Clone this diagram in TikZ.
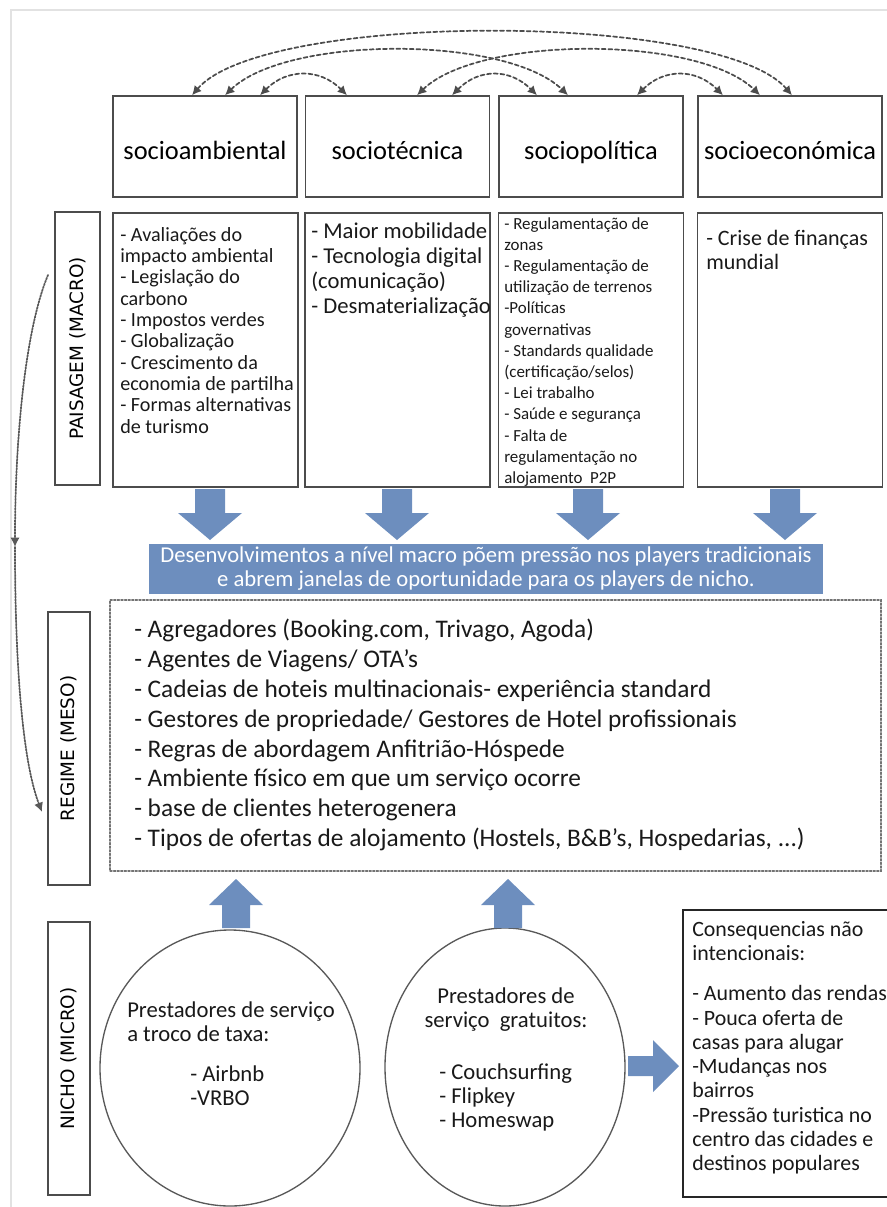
\documentclass[tikz,border=0pt]{standalone}
\usepackage{fontspec}
\setmainfont{Carlito}
\newfontfamily\labelfont{DejaVu Sans}
\usetikzlibrary{arrows.meta,shapes.geometric}

\definecolor{blockblue}{RGB}{109,142,190}
\definecolor{framegray}{RGB}{226,226,226}

\begin{document}
\begin{tikzpicture}[x=0.75pt, y=-0.75pt, line cap=round,
    box/.style={draw=black!70, line width=1.1pt, inner sep=0pt},
    topbox/.style={box, minimum width=184*0.75pt, minimum height=101*0.75pt,
                   text height=19pt, text depth=0pt,
                   font=\fontsize{19.8}{22}\selectfont},
    colbox/.style={box, minimum width=185*0.75pt, minimum height=274*0.75pt},
    levelbox/.style={box, rotate=90, minimum width=273*0.75pt, minimum height=42*0.75pt,
                     font=\labelfont\fontsize{13.8}{16}\selectfont},
    coltext/.style={anchor=north west, inner sep=0pt, align=left, text=black!90},
    dasharc/.style={densely dashed, draw=black!70, line width=1.3pt,
                    {Latex[length=7pt,width=7pt]}-{Latex[length=7pt,width=7pt]}},
    sidearc/.style={densely dotted, draw=black!65, line width=1.3pt,
                    -{Latex[length=7pt,width=7pt]}},
    blockarrow/.style={fill=blockblue}
  ]
\useasboundingbox (0,0) rectangle (887,1207);
\draw[framegray, line width=0.9pt] (11,1207) -- (11,10) -- (887,10);

% dimensions (landscape)
\foreach \nm/\cx/\txt in {sa/205/socioambiental, st/397.5/sociotécnica,
                          sp/591/sociopolítica, se/790/socioeconómica}
  \node[topbox] (\nm) at (\cx,146.5) {\txt};

\foreach \a/\oa/\b/\ob/\v/\d in {sa/-13/se/2/84/72, sa/20/sp/-23/60/62,
                                st/19.5/se/-30/60/62, sa/55/st/-50.5/27/27,
                                st/54.5/sp/-54/27/27, sp/46/se/-67/27/27}
  \draw[dasharc] ([xshift=\oa*0.75pt]\a.north) .. controls +(\d,-\v) and +(-\d,-\v)
        .. ([xshift=\ob*0.75pt]\b.north);

\node[levelbox, minimum height=45*0.75pt] (macro) at (77.5,348.5) {PAISAGEM (MACRO)};

\foreach \nm/\cx in {pa/205.5, pt/397.5, pp/591, pe/790}
  \node[colbox] (\nm) at (\cx,350) {};

\node[coltext, font=\fontsize{15.1}{16}\selectfont] (patext) at (120,227)
  {- Avaliações do\\impacto ambiental\\- Legislação do\\carbono\\- Impostos verdes\\
   - Globalização\\- Crescimento da\\economia de partilha\\- Formas alternativas\\de turismo};
\node[coltext, font=\fontsize{17}{18.75}\selectfont] (pttext) at (311,222)
  {- Maior mobilidade\\- Tecnologia digital\\(comunicação)\\- Desmaterialização};
\node[coltext, font=\fontsize{12.7}{15.9}\selectfont] (pptext) at (504,217)
  {- Regulamentação de\\zonas\\- Regulamentação de\\utilização de terrenos\\-Políticas\\
   governativas\\- Standards qualidade\\(certificação/selos)\\- Lei trabalho\\
   - Saúde e segurança\\- Falta de\\regulamentação no\\alojamento~ P2P};
\node[coltext, font=\fontsize{16.5}{18}\selectfont] (petext) at (706,230)
  {- Crise de finanças\\mundial};

\foreach \cx in {210,397,588,785}
  \fill[blockarrow] (\cx-15,489) -- (\cx+15,489) -- (\cx+15,513) -- (\cx+32,513)
        -- (\cx,540) -- (\cx-32,513) -- (\cx-15,513) -- cycle;

\node[fill=blockblue, text=white, minimum width=674*0.75pt, minimum height=50*0.75pt,
      inner sep=0pt, align=center, font=\fontsize{17}{18}\selectfont] (banner) at (486,569)
  {Desenvolvimentos a nível macro põem pressão nos players tradicionais\\
   e abrem janelas de oportunidade para os players de nicho.};

% regime (meso)
\node[levelbox] (meso) at (69,748.5) {REGIME (MESO)};
\node[draw=black!55, line width=1pt, dash pattern=on 1.5pt off 1.2pt, inner sep=0pt,
      minimum width=771*0.75pt, minimum height=271*0.75pt] (regime) at (495.5,735.5) {};
\node[coltext, font=\fontsize{19}{22.35}\selectfont] (regimetext) at (134,619)
  {- Agregadores (Booking.com, Trivago, Agoda)\\- Agentes de Viagens/ OTA's\\
   - Cadeias de hoteis multinacionais- experiência standard\\
   - Gestores de propriedade/ Gestores de Hotel profissionais\\
   - Regras de abordagem Anfitrião-Hóspede\\- Ambiente físico em que um serviço ocorre\\
   - base de clientes heterogenera\\
   - Tipos de ofertas de alojamento (Hostels, B\&B's, Hospedarias, ...)};

\coordinate (s1) at (48,275);
\coordinate (s2) at (15,547);
\coordinate (s3) at (42,812);
\draw[sidearc] (s1) .. controls (25,330) and (15,440) .. (s2);
\draw[sidearc] (s2) .. controls (15,660) and (22,760) .. (s3);

% nicho (micro)
\node[levelbox] (micro) at (69,1058.5) {NICHO (MICRO)};
\node[ellipse, draw=black!65, line width=1pt, minimum width=260*0.75pt,
      minimum height=276*0.75pt] (fee) at (230,1068) {};
\node[ellipse, draw=black!65, line width=1pt, minimum width=240*0.75pt,
      minimum height=278*0.75pt] (free) at (505,1067) {};

\foreach \cx in {236,508}
  \fill[blockarrow] (\cx-14,928) -- (\cx+14,928) -- (\cx+14,905) -- (\cx+27,905)
        -- (\cx,879) -- (\cx-27,905) -- (\cx-14,905) -- cycle;

\node[coltext, font=\fontsize{17}{18}\selectfont] (feetext) at (127,1001)
  {Prestadores de serviço\\a troco de taxa:};
\node[coltext, font=\fontsize{17}{18}\selectfont] (feelist) at (190,1065)
  {- Airbnb\\-VRBO};
\node[inner sep=0pt, align=center, text=black!90, font=\fontsize{17}{18}\selectfont,
      anchor=north] (freetext) at (506,987)
  {Prestadores de\\serviço~ gratuitos:};
\node[coltext, font=\fontsize{17}{18}\selectfont] (freelist) at (439,1063)
  {- Couchsurfing\\- Flipkey\\- Homeswap};

\fill[blockarrow] (628,1056) -- (653,1056) -- (653,1040) -- (679,1066)
      -- (653,1092) -- (653,1076) -- (628,1076) -- cycle;

\node[draw=black!85, line width=1.1pt, inner sep=0pt, minimum width=206*0.75pt,
      minimum height=287*0.75pt] (cons) at (786,1053.5) {};
\node[coltext, font=\fontsize{16.4}{18.2}\selectfont] (constext) at (692,921)
  {Consequencias não\\intencionais:\\[12pt]- Aumento das rendas\\- Pouca oferta de\\
   casas para alugar\\-Mudanças nos\\bairros\\-Pressão turistica no\\
   centro das cidades e\\destinos populares};
\end{tikzpicture}
\end{document}
